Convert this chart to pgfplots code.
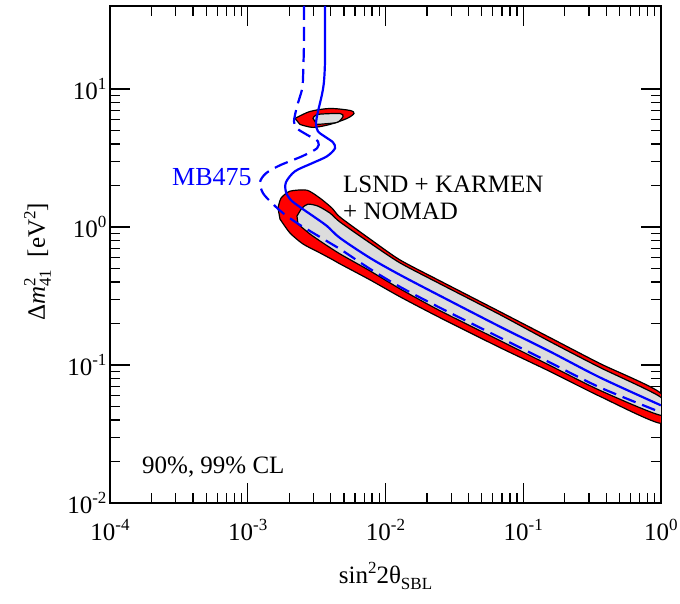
\documentclass[border=0pt]{standalone}
\usepackage{fontspec}
\setmainfont{Liberation Serif}
\usepackage{pgfplots}
\pgfplotsset{compat=1.18}
\newcommand{\sups}[1]{\raisebox{9.5pt}{\fontsize{17}{17}\selectfont #1}}
\newcommand{\subs}[1]{\raisebox{-6pt}{\fontsize{17}{17}\selectfont #1}}
\begin{document}
\begin{tikzpicture}[font=\fontsize{25}{30}\selectfont]
\begin{axis}[
  xmode=log, ymode=log,
  scale only axis, width=551pt, height=497pt,
  xmin=1e-4, xmax=1, ymin=1e-2, ymax=40,
  xtick={1e-4,1e-3,1e-2,1e-1,1},
  xticklabels={10\sups{-4},10\sups{-3},10\sups{-2},10\sups{-1},10\sups{0}},
  ytick={1e-2,1e-1,1,10},
  yticklabels={10\sups{-2},10\sups{-1},10\sups{0},10\sups{1}},
  tick align=inside, major tick length=20pt, minor tick length=10pt,
  axis line style={line width=1.8pt},
  every tick/.append style={black, line width=1.3pt},
  every x tick label/.append style={anchor=base, yshift=-37pt},
  every axis x label/.style={at={(axis description cs:0.5,0)}, anchor=base, yshift=-80pt},
  every axis y label/.style={at={(axis description cs:-0.118,0.485)}, rotate=90, anchor=base},
  xlabel={sin\sups{2}2θ\subs{SBL}},
  ylabel={Δ\textit{m}\makebox[0pt][l]{\sups{2}}\subs{41}\hspace{0.5em}[eV\sups{2}]},
]
% 99% CL region (red)
\addplot[fill=red, draw=black, line width=1.2pt, smooth, tension=0.4] coordinates {
(1.658e-3,1.372) (1.744e-3,1.620) (2.026e-3,1.820) (2.692e-3,1.850) (3.346e-3,1.620)
(4.089e-3,1.372) (4.675e-3,1.181) (7.718e-3,0.8192) (1.274e-2,0.5778) (2.486e-2,0.4074)
(6.780e-2,0.2434) (0.1564,0.1580) (0.3607,0.1025) (1.0,0.06226)
(1.0,0.03781) (0.3607,0.05925) (0.1564,0.08977) (6.780e-2,0.1337) (2.486e-2,0.2203)
(1.274e-2,0.3123) (7.718e-3,0.4142) (4.675e-3,0.5406) (4.159e-3,0.5778) (3.346e-3,0.6491)
(2.518e-3,0.7539) (2.026e-3,0.9052) (1.715e-3,1.142)
} -- cycle;
% 90% CL region (gray)
\addplot[fill={rgb,255:red,220;green,220;blue,220}, draw=black, line width=1.2pt, smooth, tension=0.4] coordinates {
(2.278e-3,1.201) (2.477e-3,1.372) (2.738e-3,1.466) (3.236e-3,1.418) (3.955e-3,1.262)
(4.675e-3,1.087) (7.718e-3,0.7665) (1.274e-2,0.5496) (2.486e-2,0.3877) (6.780e-2,0.2316)
(0.1564,0.1478) (0.3607,0.09592) (1.0,0.05826)
(1.0,0.04318) (0.3607,0.06545) (0.1564,0.09917) (6.780e-2,0.1503) (2.486e-2,0.2475)
(1.274e-2,0.3567) (7.718e-3,0.4812) (4.675e-3,0.6385) (3.518e-3,0.7665) (2.831e-3,0.8903)
(2.316e-3,1.051)
} -- cycle;
% island, 99%
\addplot[fill=red, draw=black, line width=1.2pt, smooth, tension=0.5] coordinates {
(2.203e-3,6.124) (2.831e-3,6.880) (3.955e-3,7.232) (5.525e-3,6.996) (5.906e-3,6.655)
(5.254e-3,6.124) (3.955e-3,5.543) (2.977e-3,5.272) (2.395e-3,5.543)
} -- cycle;
% island, 90%
\addplot[fill={rgb,255:red,220;green,220;blue,220}, draw=black, line width=1.2pt, smooth, tension=0.4] coordinates {
(2.977e-3,6.124) (3.182e-3,6.546) (4.675e-3,6.655) (4.916e-3,6.331) (4.446e-3,5.731) (3.182e-3,5.543)
} -- cycle;
% MB475 solid
\addplot[blue, line width=2.2pt, smooth, tension=0.5] coordinates {
(3.638e-3,40) (3.638e-3,26.01) (3.638e-3,15.80) (3.577e-3,11.33) (3.459e-3,9.13)
(3.236e-3,6.880) (3.130e-3,5.636) (3.236e-3,4.934) (3.699e-3,4.466) (4.159e-3,4.109)
(4.300e-3,3.719) (3.761e-3,3.256) (2.927e-3,2.898) (2.203e-3,2.537) (1.895e-3,2.113)
(1.895e-3,1.790) (2.061e-3,1.566) (2.395e-3,1.395) (2.977e-3,1.201) (3.761e-3,1.017)
(4.675e-3,0.8330) (7.718e-3,0.5972) (1.274e-2,0.4502) (2.486e-2,0.3176) (6.780e-2,0.1897)
(0.1564,0.1252) (0.3607,0.08123) (1.0,0.05101)
};
% MB475 dashed
\addplot[blue, line width=2.2pt, smooth, tension=0.5, dash pattern=on 14pt off 7pt] coordinates {
(2.561e-3,40) (2.561e-3,22.03) (2.518e-3,11.91) (2.477e-3,9.92) (2.278e-3,7.475)
(2.167e-3,5.826) (2.278e-3,5.186) (2.738e-3,4.617) (3.236e-3,4.178) (3.182e-3,3.719)
(2.477e-3,3.256) (1.715e-3,2.803) (1.357e-3,2.454) (1.227e-3,2.113) (1.290e-3,1.761)
(1.500e-3,1.491) (1.803e-3,1.262) (2.278e-3,1.069) (2.831e-3,0.9357) (3.955e-3,0.7665)
(4.675e-3,0.6938) (7.718e-3,0.4975) (1.274e-2,0.3688) (2.486e-2,0.2601) (6.780e-2,0.1580)
(0.1564,0.1042) (0.3607,0.06877) (1.0,0.04539)
};
\node[anchor=base west, inner sep=0, text=blue, font=\fontsize{26}{30}\selectfont] at (axis cs:2.818e-4,2.010) {MB475};
\node[anchor=base west, inner sep=0] at (axis cs:4.916e-3,1.790) {LSND + KARMEN};
\node[anchor=base west, inner sep=0] at (axis cs:4.916e-3,1.142) {+ NOMAD};
\node[anchor=base west, inner sep=0] at (axis cs:1.707e-4,0.01647) {90\%, 99\% CL};
\end{axis}
\pgfresetboundingbox
\path (current axis.south west) +(-110pt,-101pt) rectangle +(570pt,503pt);
\end{tikzpicture}
\end{document}
